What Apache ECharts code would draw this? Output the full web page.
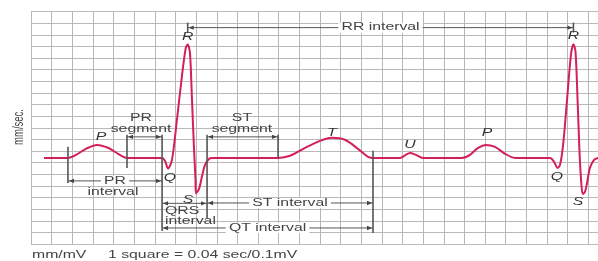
<!DOCTYPE html>
<html>
<head>
<meta charset="utf-8">
<script src="https://cdn.jsdelivr.net/npm/echarts@6/dist/echarts.min.js"></script>
<style>
html,body{margin:0;padding:0;background:#fff;}
#ecg{width:598px;height:261px;}
</style>
</head>
<body>
<div id="ecg"></div>
<script>
// everything is in grid squares: 1 square across = 0.04 sec, 1 square up = 0.1 mV
var traceX=[0.63,1.79,2.18,2.66,3.20,3.73,4.22,4.65,6.35,6.49,6.64,6.83,7.07,7.32,7.50,7.59,7.70,7.80,7.90,7.97,7.99,8.14,8.29,8.43,8.62,8.77,
  11.97,12.55,13.28,14.00,14.58,15.21,15.84,16.33,16.62,17.88,18.12,18.36,18.65,18.99,20.88,21.27,21.66,22.04,22.48,22.97,23.45,
  25.15,25.34,25.51,25.63,25.78,25.97,26.16,26.28,26.38,26.48,26.57,26.65,26.73,26.84,26.94,27.08,27.28,27.47];
var traceY=[7.41,7.41,7.67,8.19,8.53,8.28,7.76,7.41,7.41,7.16,6.50,7.24,10.69,14.57,16.90,17.16,16.47,12.41,8.10,5.52,4.35,4.74,5.86,6.81,7.32,7.41,
  7.41,7.59,8.28,8.88,9.14,8.97,8.19,7.50,7.41,7.41,7.63,7.84,7.67,7.41,7.41,7.67,8.28,8.53,8.36,7.76,7.41,
  7.41,7.07,6.55,6.81,8.53,12.41,16.29,17.20,16.55,12.41,8.10,5.52,4.31,4.48,5.26,6.55,7.24,7.41];

// wave letters [x, y, text]
var waveLabels=[[3.39,9.22,'P'],[7.59,17.76,'R'],[6.73,5.69,'Q'],[7.61,3.79,'S'],[14.58,9.57,'T'],
  [18.36,8.53,'U'],[22.09,9.57,'P'],[25.48,5.78,'Q'],[26.50,3.62,'S'],[26.28,17.84,'R']];

// bracket ticks [x, yTop, yBottom]
var brackets=[[1.79,8.36,5.26],[4.65,9.40,6.55],[6.35,9.40,1.12],[8.53,9.40,2.24],[11.97,9.40,7.41],
  [16.57,8.02,0.95],[7.59,19.05,18.19],[26.28,19.05,18.19]];

// interval arrows [xStart, xEnd, y, text on the line]
var arrows=[[4.65,6.35,9.22,''],[8.53,11.97,9.22,''],[1.79,6.35,5.43,'PR'],[6.35,8.53,3.50,''],
  [8.53,16.57,3.53,'ST interval'],[6.35,16.57,1.38,'QT interval'],[7.59,26.28,18.62,'RR interval']];

// other captions [x, y, text, align]
var captions=[[5.33,10.85,'PR','center'],[5.33,9.90,'segment','center'],[10.22,10.80,'ST','center'],[10.22,9.90,'segment','center'],
  [3.97,4.47,'interval','center'],[6.49,2.78,'QRS','left'],[6.49,1.96,'interval','left']];

var chart=echarts.init(document.getElementById('ecg'));
var font='"Liberation Sans", Arial, sans-serif';
var stretch=1.58;

chart.setOption({
  animation:false,
  grid:{left:31,right:0,top:11.6,bottom:17},
  xAxis:{type:'value',min:0,max:27.47,interval:1,axisLine:{show:false},axisTick:{show:false},axisLabel:{show:false},
    splitLine:{lineStyle:{color:'#b8b8b8',width:1}}},
  yAxis:{type:'value',min:0,max:20,interval:1,axisLine:{show:false},axisTick:{show:false},axisLabel:{show:false},
    splitLine:{lineStyle:{color:'#b8b8b8',width:1}}},
  series:[{
    type:'line',
    data:traceX.map(function(x,i){return [x,traceY[i]];}),
    showSymbol:false,
    smooth:0.3,
    lineStyle:{color:'#d51f57',width:2},
    z:3
  }]
});

function px(x,y){return chart.convertToPixel({gridIndex:0},[x,y]);}
function txt(x,y,s,align,italic){
  return {type:'text',x:x,y:y,scaleX:stretch,z:6,
    style:{text:s,font:(italic?'italic ':'')+'10px '+font,fill:italic?'#333':'#444',align:align,verticalAlign:'middle'}};
}

var g=[];
brackets.forEach(function(b){
  var a=px(b[0],b[1]),c=px(b[0],b[2]);
  g.push({type:'line',shape:{x1:a[0],y1:a[1],x2:c[0],y2:c[1]},style:{stroke:'#555',lineWidth:1.6},z:5});
});
arrows.forEach(function(r){
  var a=px(r[0],r[2]),c=px(r[1],r[2]);
  var y=a[1];
  g.push({type:'line',shape:{x1:a[0],y1:y,x2:c[0],y2:y},style:{stroke:'#555',lineWidth:1},z:5});
  g.push({type:'polygon',shape:{points:[[a[0]+1,y],[a[0]+6,y-2.2],[a[0]+6,y+2.2]]},style:{fill:'#444'},z:5});
  g.push({type:'polygon',shape:{points:[[c[0]-1,y],[c[0]-6,y-2.2],[c[0]-6,y+2.2]]},style:{fill:'#444'},z:5});
  if(r[3]){
    var t=txt((a[0]+c[0])/2,y,r[3],'center',false);
    t.style.backgroundColor='#fff';
    t.style.padding=[0,2];
    g.push(t);
  }
});
captions.forEach(function(t){
  var p=px(t[0],t[1]);
  g.push(txt(p[0],p[1],t[2],t[3],false));
});
waveLabels.forEach(function(t){
  var p=px(t[0],t[1]);
  g.push(txt(p[0],p[1],t[2],'center',true));
});
g.push({type:'text',x:19,y:127,rotation:Math.PI/2,scaleY:1.5,z:6,
  style:{text:'mm/sec.',font:'9.5px '+font,fill:'#444',align:'center',verticalAlign:'middle'}});
g.push(txt(32,255,'mm/mV','left',false));
g.push(txt(108,255,'1 square = 0.04 sec/0.1mV','left',false));

chart.setOption({graphic:g});
</script>
</body>
</html>
